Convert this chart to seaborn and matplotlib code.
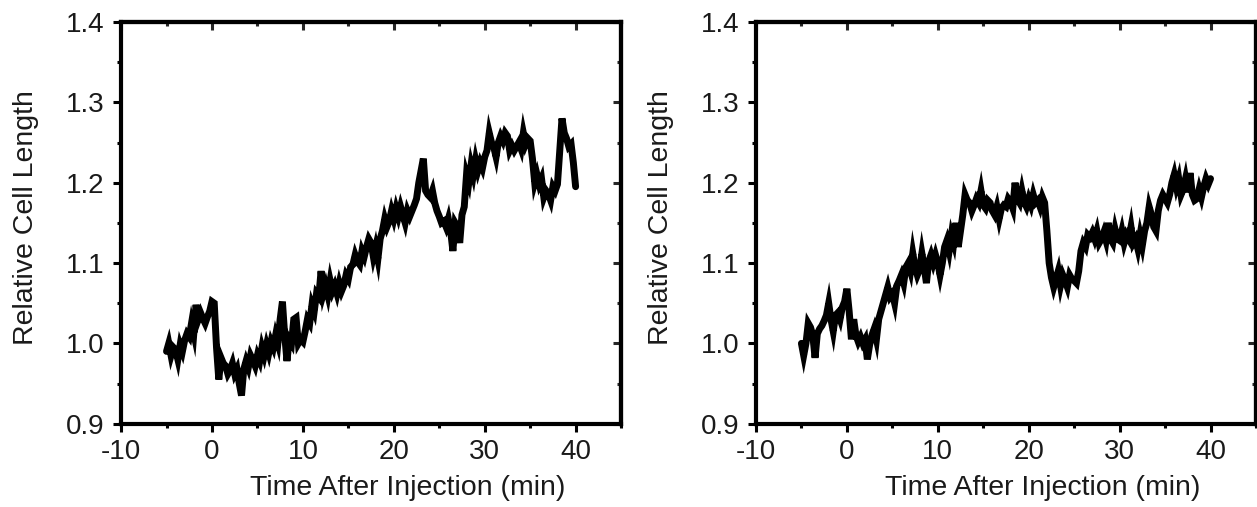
"""Relative cell length after injection: two side-by-side traces."""

import numpy as np
import pandas as pd
import matplotlib
matplotlib.use("Agg")
import matplotlib.pyplot as plt
from matplotlib.ticker import MultipleLocator, FormatStrFormatter
import seaborn as sns

# trace sampling: starts at -5 min, one reading every 0.25 min
T_START = -5.0
T_STEP = 0.25

# left cell (4 readings per minute)
cell_a = [
    0.990, 1.000, 0.985, 0.995,   # -5
    0.992, 0.980, 0.998, 0.990,   # -4
    1.004, 1.012, 1.008, 1.025,   # -3
    1.012, 1.048, 1.030, 1.038,   # -2
    1.031, 1.025, 1.033, 1.040,   # -1
    1.052, 1.050, 0.995, 0.955,   # 0
    0.982, 0.975, 0.972, 0.962,   # 1
    0.967, 0.975, 0.962, 0.968,   # 2
    0.950, 0.935, 0.968, 0.978,   # 3
    0.970, 0.985, 0.979, 0.972,   # 4
    0.985, 0.978, 0.995, 0.985,   # 5
    0.998, 0.988, 1.002, 0.995,   # 6
    1.010, 1.000, 1.030, 1.052,   # 7
    1.010, 0.978, 1.005, 1.000,   # 8
    1.030, 1.032, 1.000, 1.005,   # 9
    1.002, 1.015, 1.030, 1.025,   # 10
    1.048, 1.040, 1.062, 1.058,   # 11
    1.090, 1.062, 1.072, 1.060,   # 12
    1.078, 1.065, 1.072, 1.062,   # 13
    1.075, 1.065, 1.072, 1.085,   # 14
    1.080, 1.095, 1.098, 1.110,   # 15
    1.102, 1.098, 1.115, 1.108,   # 16
    1.120, 1.130, 1.125, 1.108,   # 17
    1.120, 1.105, 1.130, 1.140,   # 18
    1.155, 1.145, 1.152, 1.165,   # 19
    1.155, 1.168, 1.158, 1.170,   # 20
    1.160, 1.150, 1.165, 1.158,   # 21
    1.165, 1.172, 1.180, 1.200,   # 22
    1.215, 1.230, 1.190, 1.185,   # 23
    1.182, 1.190, 1.175, 1.165,   # 24
    1.158, 1.150, 1.152, 1.145,   # 25
    1.155, 1.140, 1.115, 1.150,   # 26
    1.145, 1.125, 1.160, 1.170,   # 27
    1.210, 1.200, 1.222, 1.210,   # 28
    1.228, 1.215, 1.225, 1.218,   # 29
    1.232, 1.240, 1.262, 1.250,   # 30
    1.244, 1.232, 1.250, 1.258,   # 31
    1.252, 1.262, 1.258, 1.240,   # 32
    1.246, 1.240, 1.245, 1.250,   # 33
    1.242, 1.262, 1.248, 1.255,   # 34
    1.252, 1.230, 1.200, 1.210,   # 35
    1.198, 1.205, 1.182, 1.190,   # 36
    1.186, 1.178, 1.195, 1.190,   # 37
    1.198, 1.240, 1.280, 1.262,   # 38
    1.255, 1.245, 1.248, 1.225,   # 39
    1.195,                        # 40
]

# right cell
cell_b = [
    1.000, 0.985, 1.000, 1.025,   # -5
    1.020, 1.010, 0.982, 1.012,   # -4
    1.018, 1.022, 1.028, 1.035,   # -3
    1.050, 1.030, 1.015, 1.035,   # -2
    1.038, 1.030, 1.045, 1.052,   # -1
    1.068, 1.040, 1.005, 1.030,   # 0
    1.010, 1.002, 1.008, 1.000,   # 1
    1.005, 0.980, 0.998, 1.010,   # 2
    1.018, 1.005, 1.030, 1.040,   # 3
    1.050, 1.060, 1.070, 1.058,   # 4
    1.062, 1.050, 1.072, 1.078,   # 5
    1.085, 1.075, 1.095, 1.100,   # 6
    1.090, 1.112, 1.095, 1.085,   # 7
    1.092, 1.112, 1.095, 1.075,   # 8
    1.102, 1.110, 1.100, 1.110,   # 9
    1.100, 1.085, 1.100, 1.120,   # 10
    1.128, 1.115, 1.135, 1.125,   # 11
    1.150, 1.120, 1.140, 1.160,   # 12
    1.185, 1.178, 1.175, 1.165,   # 13
    1.172, 1.180, 1.175, 1.190,   # 14
    1.172, 1.168, 1.178, 1.175,   # 15
    1.165, 1.160, 1.170, 1.155,   # 16
    1.168, 1.172, 1.170, 1.180,   # 17
    1.176, 1.168, 1.200, 1.180,   # 18
    1.175, 1.190, 1.176, 1.170,   # 19
    1.180, 1.172, 1.185, 1.175,   # 20
    1.178, 1.170, 1.182, 1.175,   # 21
    1.140, 1.100, 1.082, 1.070,   # 22
    1.080, 1.090, 1.072, 1.085,   # 23
    1.078, 1.070, 1.085, 1.080,   # 24
    1.078, 1.075, 1.090, 1.115,   # 25
    1.125, 1.120, 1.135, 1.132,   # 26
    1.138, 1.130, 1.140, 1.125,   # 27
    1.130, 1.138, 1.128, 1.150,   # 28
    1.130, 1.125, 1.142, 1.130,   # 29
    1.128, 1.140, 1.125, 1.135,   # 30
    1.130, 1.145, 1.125, 1.130,   # 31
    1.118, 1.135, 1.122, 1.140,   # 32
    1.150, 1.170, 1.160, 1.145,   # 33
    1.140, 1.165, 1.178, 1.185,   # 34
    1.180, 1.175, 1.185, 1.200,   # 35
    1.210, 1.195, 1.205, 1.185,   # 36
    1.192, 1.205, 1.188, 1.212,   # 37
    1.185, 1.178, 1.180, 1.192,   # 38
    1.182, 1.195, 1.205, 1.198,   # 39
    1.205,                        # 40
]

x_label = "Time After Injection (min)"
y_label = "Relative Cell Length"
x_limits = (-10, 45)
y_limits = (0.9, 1.4)

sns.set_style("ticks")
plt.rcParams["font.family"] = ["Liberation Sans", "DejaVu Sans"]
plt.rcParams["axes.unicode_minus"] = False
INK = "#1a1a1a"
plt.rcParams["text.color"] = INK
plt.rcParams["axes.labelcolor"] = INK
plt.rcParams["xtick.labelcolor"] = INK
plt.rcParams["ytick.labelcolor"] = INK

FS = 20
LABEL_FS = 20.5
SPINE_W = 3.0
TICK_W = 2.2

fig = plt.figure(figsize=(12.57, 5.07), dpi=100)
ax_left = fig.add_axes([0.0963, 0.1643, 0.3978, 0.7923])
ax_right = fig.add_axes([0.6014, 0.1643, 0.3978, 0.7923])


def draw_panel(ax, values):
    t = T_START + T_STEP * np.arange(len(values))
    df = pd.DataFrame({"t": t, "length": values})
    sns.lineplot(data=df, x="t", y="length", ax=ax, color="black",
                 linewidth=5.0, solid_joinstyle="miter", estimator=None)

    ax.set_xlim(*x_limits)
    ax.set_ylim(*y_limits)
    ax.xaxis.set_major_locator(MultipleLocator(10))
    ax.xaxis.set_minor_locator(MultipleLocator(5))
    ax.yaxis.set_major_locator(MultipleLocator(0.1))
    ax.yaxis.set_minor_locator(MultipleLocator(0.05))
    ax.yaxis.set_major_formatter(FormatStrFormatter("%.1f"))

    for s in ax.spines.values():
        s.set_linewidth(SPINE_W)
        s.set_color("black")
        s.set_visible(True)

    ax.tick_params(which="major", direction="out", length=6, width=TICK_W,
                   labelsize=FS, color="black")
    ax.tick_params(which="minor", direction="out", length=3, width=TICK_W,
                   color="black")
    ax.tick_params(axis="x", which="major", pad=5)
    ax.tick_params(axis="y", which="major", pad=6)

    # top / right ticks point inward
    top = ax.secondary_xaxis("top")
    top.xaxis.set_major_locator(MultipleLocator(10))
    top.xaxis.set_minor_locator(MultipleLocator(5))
    top.tick_params(which="major", direction="in", length=6, width=TICK_W,
                    labeltop=False)
    top.tick_params(which="minor", direction="in", length=3, width=TICK_W)
    top.spines["top"].set_linewidth(SPINE_W)

    right = ax.secondary_yaxis("right")
    right.yaxis.set_major_locator(MultipleLocator(0.1))
    right.yaxis.set_minor_locator(MultipleLocator(0.05))
    right.tick_params(which="major", direction="in", length=6, width=TICK_W,
                      labelright=False)
    right.tick_params(which="minor", direction="in", length=3, width=TICK_W)
    right.spines["right"].set_linewidth(SPINE_W)

    ax.set_xlabel(x_label, fontsize=LABEL_FS, va="top")
    ax.set_ylabel(y_label, fontsize=LABEL_FS)
    ax.xaxis.set_label_coords(0.574, -0.128)
    ax.yaxis.set_label_coords(-0.164, 0.513)


draw_panel(ax_left, cell_a)
draw_panel(ax_right, cell_b)

fig.savefig("out.png", dpi=100)
plt.close(fig)
